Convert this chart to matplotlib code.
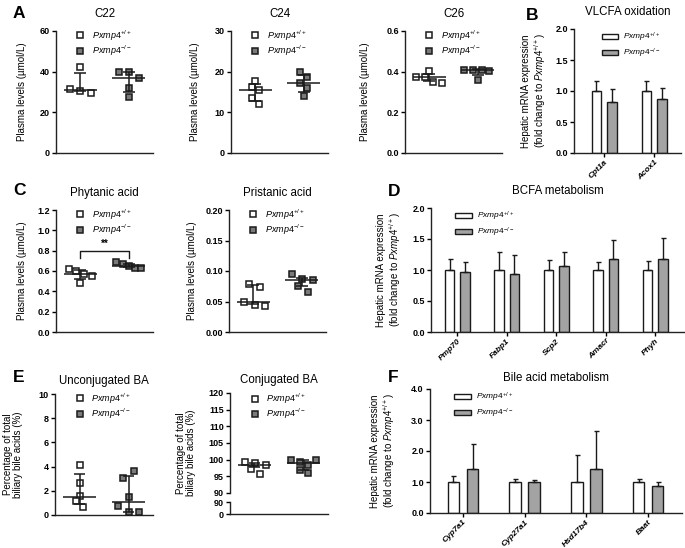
import numpy as np
import matplotlib
matplotlib.use('Agg')
import matplotlib.pyplot as plt

plt.rcParams['font.family'] = 'Liberation Sans'
plt.rcParams['mathtext.fontset'] = 'custom'
plt.rcParams['mathtext.rm'] = 'Liberation Sans'
plt.rcParams['mathtext.it'] = 'Liberation Sans:italic'
plt.rcParams['mathtext.bf'] = 'Liberation Sans:bold'
plt.rcParams['axes.linewidth'] = 1.0
plt.rcParams['axes.edgecolor'] = '#222222'

WT_LABEL = r'$\mathit{Pxmp4}^{+/+}$'
KO_LABEL = r'$\mathit{Pxmp4}^{-/-}$'
YLAB_MRNA = 'Hepatic mRNA expression\n(fold change to ' + r'$\mathit{Pxmp4}^{+/+}$' + ')'

# ---- scatter data: points, and (centre, low, high) lines
c22_wt = [42.3, 31.4, 30.6, 29.7]
c22_ko = [39.9, 39.9, 37.1, 32.2, 27.6]
c22_wt_stats = (30.9, 30.3, 39.5)
c22_ko_stats = (37.1, 30.1, 39.9)

c24_wt = [17.7, 16.3, 15.5, 13.5, 12.0]
c24_ko = [20.0, 18.6, 17.3, 15.9, 14.1]
c24_wt_stats = (15.5, 12.7, 17.0)
c24_ko_stats = (17.3, 15.1, 19.2)

c26_wt = [0.375, 0.375, 0.402, 0.350, 0.345]
c26_ko = [0.410, 0.410, 0.410, 0.404, 0.361]
c26_wt_stats = (0.375, 0.353, 0.390)
c26_ko_stats = (0.407, 0.383, 0.412)

phyt_wt = [0.62, 0.60, 0.57, 0.55, 0.48]
phyt_ko = [0.685, 0.666, 0.652, 0.633, 0.626]
phyt_wt_stats = (0.567, 0.518, 0.61)
phyt_ko_stats = (0.652, 0.64, 0.665)

prist_wt = [0.079, 0.0745, 0.0498, 0.0444, 0.0427]
prist_ko = [0.0947, 0.0876, 0.0756, 0.0849, 0.066]
prist_wt_stats = (0.050, 0.0465, 0.077)
prist_ko_stats = (0.086, 0.076, 0.089)

unconj_wt = [4.13, 2.67, 1.57, 1.18, 0.69]
unconj_ko = [3.66, 3.09, 1.46, 0.77, 0.22, 0.22]
unconj_wt_stats = (1.52, 0.88, 3.39)
unconj_ko_stats = (1.10, 0.22, 3.22)

conj_wt = [99.4, 98.9, 97.3, 98.5, 95.8]
conj_ko = [99.9, 99.4, 99.9, 98.5, 97.0, 96.1]
conj_wt_stats = (98.35, 97.9, 98.9)
conj_ko_stats = (99.05, 97.0, 99.9)

# horizontal jitter of the points (layout only)
c22_jit = ([0, -0.22, 0, 0.22], [-0.21, 0, 0.22, 0, 0])
c24_jit = ([0, -0.07, 0.07, -0.07, 0.07], [-0.07, 0.06, -0.07, 0.06, 0])
c26_jit = ([-0.27, -0.08, 0, 0.08, 0.26], [-0.28, -0.1, 0.08, 0.23, 0])
phyt_jit = ([-0.24, -0.08, 0.08, 0.24, 0], [-0.26, -0.12, 0, 0.13, 0.25])
prist_jit = ([-0.08, 0.14, -0.19, 0.03, 0.25], [-0.2, 0.01, -0.08, 0.23, 0.13])
unconj_jit = ([0, 0, 0, -0.07, 0.07], [0.11, -0.11, 0, -0.22, 0, 0.21])
conj_jit = ([-0.2, 0.02, -0.08, 0.24, 0.12], [-0.25, -0.08, 0.25, 0.09, -0.08, 0.09])

# ---- bar data
vlcfa_genes = ['Cpt1a', 'Acox1']
vlcfa_wt = [1.0, 1.0]
vlcfa_wt_err = [0.16, 0.16]
vlcfa_ko = [0.83, 0.87]
vlcfa_ko_err = [0.20, 0.18]

bcfa_genes = ['Pmp70', 'Fabp1', 'Scp2', 'Amacr', 'Phyh']
bcfa_wt = [1.0, 1.0, 1.0, 0.995, 1.0]
bcfa_wt_err = [0.17, 0.29, 0.16, 0.135, 0.14]
bcfa_ko = [0.97, 0.935, 1.06, 1.18, 1.17]
bcfa_ko_err = [0.16, 0.315, 0.23, 0.30, 0.35]

ba_genes = ['Cyp7a1', 'Cyp27a1', 'Hsd17b4', 'Baat']
ba_wt = [1.0, 1.0, 1.0, 1.0]
ba_wt_err = [0.2, 0.09, 0.86, 0.1]
ba_ko = [1.42, 0.99, 1.42, 0.88]
ba_ko_err = [0.80, 0.08, 1.23, 0.11]

W, H = 685, 548
fig = plt.figure(figsize=(W / 100, H / 100), dpi=100)


def add_ax(x0, y0, x1, y1):
    return fig.add_axes([x0 / W, 1 - y1 / H, (x1 - x0) / W, (y1 - y0) / H])


def style(ax):
    for s in ['top', 'right']:
        ax.spines[s].set_visible(False)
    ax.tick_params(axis='y', length=3, width=1, labelsize=6.5, pad=1.5)
    for t in ax.get_yticklabels():
        t.set_fontweight('bold')


def scatter_panel(ax, wt, ko, jit, wt_stats, ko_stats, title, yticks, fmt, ylabel, lab_x):
    for i, (vals, dx, stats, fc) in enumerate([(wt, jit[0], wt_stats, 'white'),
                                                 (ko, jit[1], ko_stats, '#7a7a7a')]):
        ax.plot(np.array(dx) + i, vals, 's', ms=4.8, mfc=fc, mec='#1a1a1a', mew=1.1,
                ls='none', zorder=3, label=WT_LABEL if i == 0 else KO_LABEL)
        c, lo, hi = stats
        ax.hlines(c, i - 0.34, i + 0.34, color='#1a1a1a', lw=1.1, zorder=4)
        ax.hlines([lo, hi], i - 0.12, i + 0.12, color='#1a1a1a', lw=1.1, zorder=4)
        ax.vlines(i, lo, hi, color='#1a1a1a', lw=1.1, zorder=4)
    ax.set_xlim(-0.5, 1.5)
    ax.set_xticks([])
    ax.set_yticks(yticks)
    ax.set_yticklabels([fmt.format(v) for v in yticks])
    ax.set_ylim(yticks[0], yticks[-1])
    ax.set_title(title, fontsize=8.3, pad=10)
    ax.set_ylabel(ylabel, fontsize=7, linespacing=1.0)
    ax.yaxis.set_label_coords(lab_x, 0.5)
    ax.legend(loc='upper left', bbox_to_anchor=(0.15, 1.06), frameon=False, fontsize=6.5,
              handletextpad=0.7, labelspacing=0.1, borderpad=0, handlelength=1.2)
    style(ax)


def bar_panel(ax, genes, wt, wt_err, ko, ko_err, yticks, fmt, title, xlim, lab_x, leg_anchor):
    x = np.arange(len(genes))
    ax.bar(x - 0.155, wt, 0.19, color='white', edgecolor='#1a1a1a', lw=1, label=WT_LABEL)
    ax.bar(x + 0.155, ko, 0.19, color='#a3a3a3', edgecolor='#1a1a1a', lw=1, label=KO_LABEL)
    ax.errorbar(x - 0.155, wt, yerr=[np.zeros(len(x)), wt_err], fmt='none',
                ecolor='#1a1a1a', elinewidth=1, capsize=1.8, capthick=1)
    ax.errorbar(x + 0.155, ko, yerr=[np.zeros(len(x)), ko_err], fmt='none',
                ecolor='#1a1a1a', elinewidth=1, capsize=1.8, capthick=1)
    ax.set_xlim(*xlim)
    ax.set_xticks(x)
    ax.set_xticklabels(genes, rotation=45, ha='right', rotation_mode='anchor',
                       fontsize=6, fontstyle='italic', fontweight='bold')
    ax.tick_params(axis='x', length=3, width=1, pad=1)
    ax.set_yticks(yticks)
    ax.set_yticklabels([fmt.format(v) for v in yticks])
    ax.set_ylim(yticks[0], yticks[-1])
    ax.set_title(title, fontsize=8.3, pad=10)
    ax.set_ylabel(YLAB_MRNA, fontsize=7, linespacing=1.1)
    ax.yaxis.set_label_coords(lab_x, 0.5)
    ax.legend(loc='upper left', bbox_to_anchor=leg_anchor, frameon=False, fontsize=6,
              handlelength=2.0, handleheight=0.6, handletextpad=0.6, labelspacing=0.3,
              borderpad=0)
    style(ax)


# ---- row A/B
ax = add_ax(56, 31, 153, 153)
scatter_panel(ax, c22_wt, c22_ko, c22_jit, c22_wt_stats, c22_ko_stats, 'C22',
              [0, 20, 40, 60], '{:g}', 'Plasma levels (µmol/L)', -0.30)
ax = add_ax(231, 31, 328, 153)
scatter_panel(ax, c24_wt, c24_ko, c24_jit, c24_wt_stats, c24_ko_stats, 'C24',
              [0, 10, 20, 30], '{:g}', 'Plasma levels (µmol/L)', -0.32)
ax = add_ax(405, 31, 502, 153)
scatter_panel(ax, c26_wt, c26_ko, c26_jit, c26_wt_stats, c26_ko_stats, 'C26',
              [0.0, 0.2, 0.4, 0.6], '{:.1f}', 'Plasma levels (µmol/L)', -0.36)
ax = add_ax(574, 29, 681, 153)
bar_panel(ax, vlcfa_genes, vlcfa_wt, vlcfa_wt_err, vlcfa_ko, vlcfa_ko_err,
          [0.0, 0.5, 1.0, 1.5, 2.0], '{:.1f}', 'VLCFA oxidation', (-0.6, 1.54), -0.24, (0.22, 1.02))

# ---- row C/D
ax = add_ax(56, 210, 153, 332)
scatter_panel(ax, phyt_wt, phyt_ko, phyt_jit, phyt_wt_stats, phyt_ko_stats, 'Phytanic acid',
              [0.0, 0.2, 0.4, 0.6, 0.8, 1.0, 1.2], '{:.1f}', 'Plasma levels (µmol/L)', -0.30)
ax.plot([0, 0, 1, 1], [0.725, 0.80, 0.80, 0.725], color='#1a1a1a', lw=1)
ax.text(0.5, 0.82, '**', ha='center', va='bottom', fontsize=7, fontweight='bold')
ax = add_ax(229, 210, 326, 332)
scatter_panel(ax, prist_wt, prist_ko, prist_jit, prist_wt_stats, prist_ko_stats, 'Pristanic acid',
              [0.0, 0.05, 0.10, 0.15, 0.20], '{:.2f}', 'Plasma levels (µmol/L)', -0.33)
ax = add_ax(431, 208, 685, 332)
bar_panel(ax, bcfa_genes, bcfa_wt, bcfa_wt_err, bcfa_ko, bcfa_ko_err,
          [0.0, 0.5, 1.0, 1.5, 2.0], '{:.1f}', 'BCFA metabolism', (-0.53, 4.6), -0.11, (0.08, 1.02))

# ---- row E/F
ax = add_ax(55, 394, 153, 515)
scatter_panel(ax, unconj_wt, unconj_ko, unconj_jit, unconj_wt_stats, unconj_ko_stats,
              'Unconjugated BA', [0, 2, 4, 6, 8, 10], '{:g}',
              'Percentage of total\nbiliary bile acids (%)', -0.33)
ax.set_title('Unconjugated BA', fontsize=8.3, pad=7)

ax = add_ax(230, 393, 328, 493)
scatter_panel(ax, conj_wt, conj_ko, conj_jit, conj_wt_stats, conj_ko_stats,
              'Conjugated BA', [90, 95, 100, 105, 110, 115, 120], '{:g}',
              'Percentage of total\nbiliary bile acids (%)', -0.35)
ax.set_title('Conjugated BA', fontsize=8.3, pad=7)
ax.yaxis.set_label_coords(-0.35, 0.4)
ax.spines['bottom'].set_visible(False)
axb = add_ax(230, 502, 328, 514)
axb.set_xlim(-0.5, 1.5)
axb.set_ylim(0, 90)
axb.set_xticks([])
axb.set_yticks([0, 90])
axb.set_yticklabels(['0', '90'])
style(axb)

ax = add_ax(430, 389, 682, 513)
bar_panel(ax, ba_genes, ba_wt, ba_wt_err, ba_ko, ba_ko_err,
          [0.0, 1.0, 2.0, 3.0, 4.0], '{:.1f}', 'Bile acid metabolism', (-0.535, 3.55), -0.13,
          (0.08, 1.02))
ax.set_title('Bile acid metabolism', fontsize=8.3, pad=6)

# panel letters
for lab, x, y in [('A', 13, 13), ('B', 526, 15), ('C', 13, 191), ('D', 388, 192),
                  ('E', 13, 377), ('F', 388, 377)]:
    fig.text(x / W, 1 - y / H, lab, fontsize=12.5, fontweight='bold', va='center', ha='left')

fig.savefig('out.png', dpi=100)
